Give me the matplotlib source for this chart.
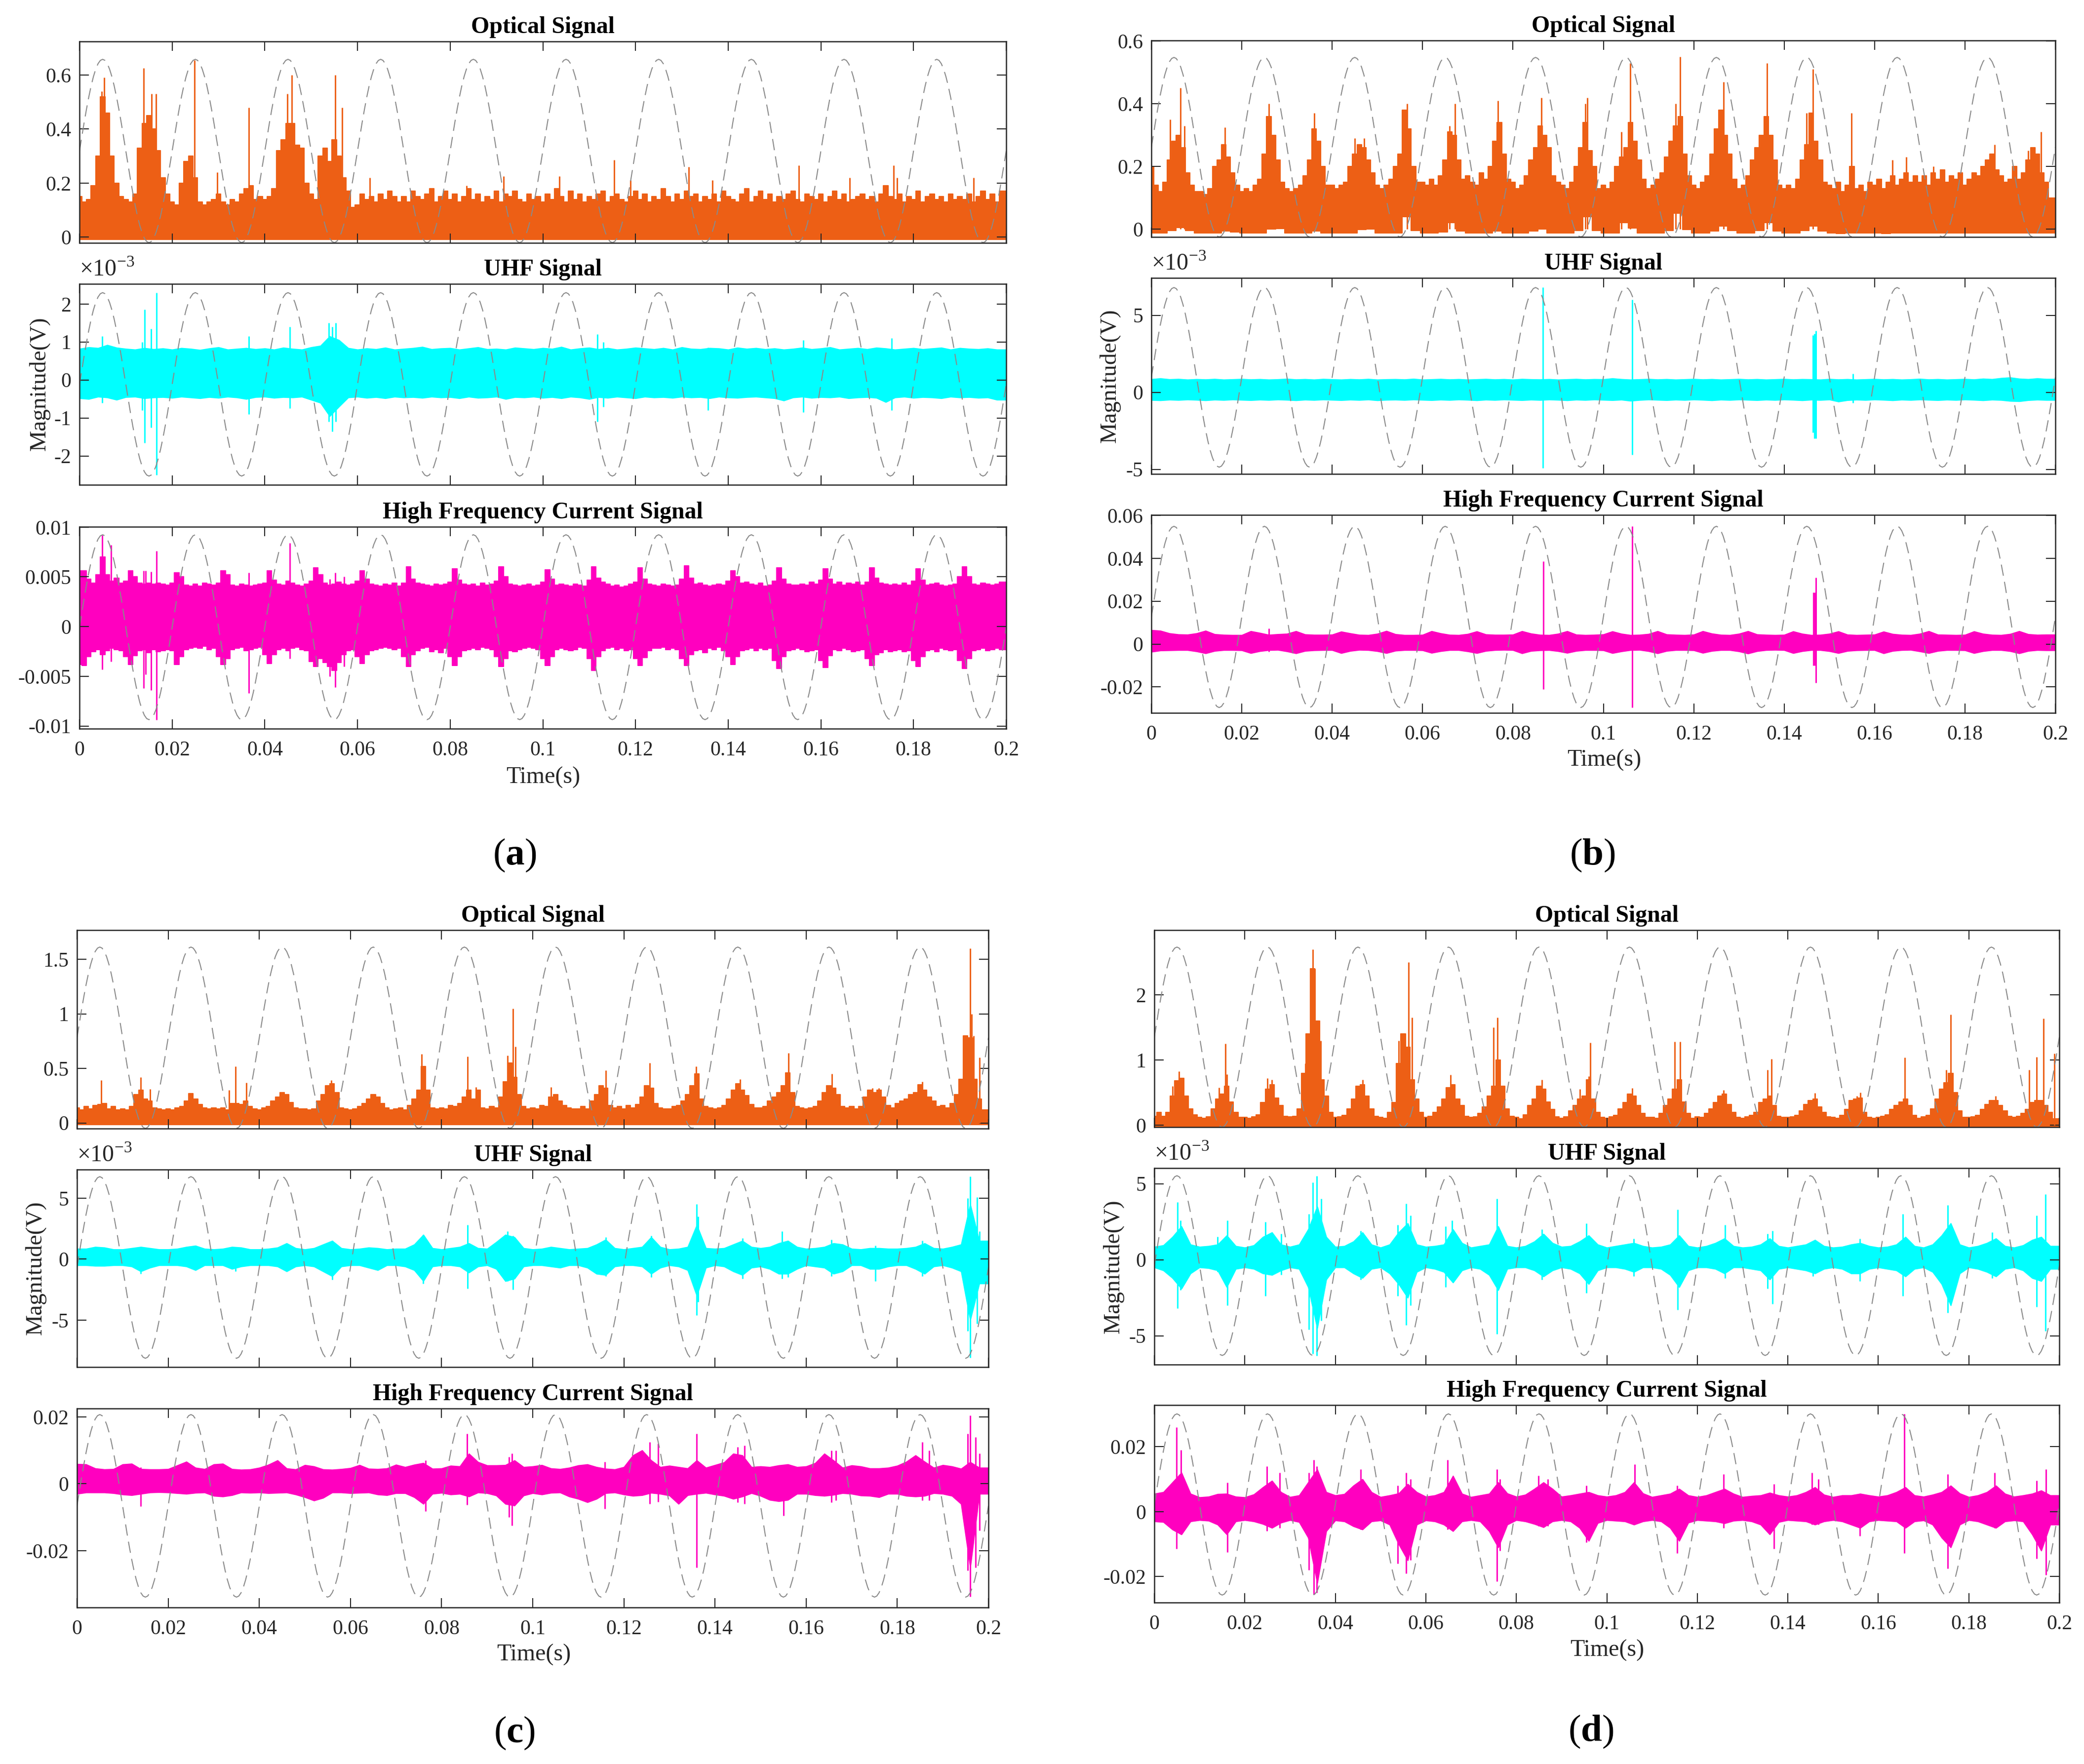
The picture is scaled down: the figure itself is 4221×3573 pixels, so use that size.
import numpy as np
import matplotlib
matplotlib.use('Agg')
import matplotlib.pyplot as plt

plt.rcParams['font.family'] = 'Liberation Serif'
plt.rcParams['mathtext.fontset'] = 'custom'
plt.rcParams['mathtext.rm'] = 'Liberation Serif'
plt.rcParams['mathtext.bf'] = 'Liberation Serif:bold'

# one mains cycle of the grey reference trace, 0 = trough, 1 = crest
ref_cycle = [.5, .578, .655, .727, .794, .854, .905, .946, .976, .994, 1, .994, .976, .946, .905, .854, .794, .727, .655, .578,
             .5, .422, .345, .273, .206, .146, .095, .054, .024, .006, 0, .006, .024, .054, .095, .146, .206, .273, .345, .422]

x_ticks = [0, .02, .04, .06, .08, .1, .12, .14, .16, .18, .2]
x_labels = ['0', '0.02', '0.04', '0.06', '0.08', '0.1', '0.12', '0.14', '0.16', '0.18', '0.2']

# ---- (a) ----
a1_top = [.15, .13, .14, .19, .30, .52, .46, .30, .20, .15,
          .14, .13, .16, .33, .42, .45, .40, .32, .22, .16,
          .13, .12, .20, .28, .30, .22, .13, .12, .13, .14,
          .16, .13, .12, .14, .13, .16, .18, .19, .14, .15,
          .14, .15, .18, .32, .36, .42, .42, .34, .33, .20,
          .16, .14, .30, .33, .28, .36, .30, .22, .17, .11,
          .12, .16, .14, .15, .13, .16, .14, .17, .15, .13,
          .15, .13, .17, .15, .14, .16, .18, .13, .15, .17,
          .14, .16, .13, .15, .18, .14, .16, .13, .15, .14,
          .17, .13, .16, .15, .17, .14, .13, .16, .14, .15,
          .13, .16, .14, .18, .15, .13, .17, .14, .16, .13,
          .15, .14, .16, .17, .13, .15, .16, .14, .13, .15,
          .17, .14, .16, .13, .15, .14, .18, .15, .13, .16,
          .14, .17, .15, .16, .13, .15, .14, .16, .13, .17,
          .15, .14, .13, .16, .18, .13, .15, .17, .14, .16,
          .13, .15, .14, .16, .17, .14, .13, .16, .15, .14,
          .16, .13, .15, .17, .14, .16, .13, .14, .15, .16,
          .14, .15, .13, .16, .19, .15, .14, .16, .13, .15,
          .14, .17, .13, .15, .16, .14, .15, .13, .16, .14,
          .15, .14, .16, .13, .15, .17, .14, .16, .13, .17]
a1_low = -.009
a1_spk_t = [4.8, 5.3, 13.9, 15.6, 16.5, 24.8, 29.7, 36.5, 44.9, 45.8, 55.2, 56.7, 62.7, 83.5, 91.5, 103.6, 115.4, 118.9, 131.5, 136.6, 155.2, 166.2, 175.7, 176.5, 193]
a1_spk_hi = [.54, .59, .625, .53, .53, .655, .24, .48, .53, .60, .60, .48, .22, .19, .225, .225, .285, .21, .26, .21, .265, .22, .265, .22, .22]
a1_spk_lo = [0] * len(a1_spk_t)

a2_top = [.82, .86, .84, .92, .85, .82, .80, .84, .81, .83, .80, .84, .82, .79, .83, .86, .80, .82, .84, .81,
          .83, .80, .85, .82, .80, .86, .90, 1.15, 1.05, .84, .80, .83, .81, .85, .80, .82, .84, .87, .81, .83,
          .84, .80, .83, .86, .81, .82, .80, .85, .83, .81, .84, .82, .87, .80, .83, .85, .81, .84, .80, .82,
          .85, .83, .81, .84, .80, .86, .82, .81, .84, .83, .80, .85, .82, .84, .81, .83, .80, .82, .85, .81,
          .83, .86, .80, .82, .84, .81, .85, .83, .80, .82, .84, .81, .83, .85, .80, .84, .82, .81, .83, .80]
a2_low = [-.48, -.50, -.44, -.46, -.52, -.45, -.44, -.48, -.46, -.45, -.47, -.44, -.46, -.48, -.45, -.47, -.44, -.46, -.50, -.45,
          -.44, -.47, -.45, -.46, -.44, -.52, -.6, -.95, -.7, -.46, -.44, -.47, -.45, -.48, -.44, -.46, -.45, -.47, -.44, -.46,
          -.45, -.48, -.44, -.47, -.46, -.44, -.50, -.45, -.46, -.44, -.47, -.45, -.48, -.44, -.46, -.50, -.45, -.47, -.44, -.46,
          -.48, -.44, -.46, -.45, -.47, -.44, -.46, -.45, -.48, -.44, -.46, -.47, -.45, -.44, -.46, -.48, -.54, -.46, -.44, -.47,
          -.45, -.46, -.44, -.48, -.46, -.45, -.47, -.58, -.46, -.44, -.47, -.45, -.46, -.48, -.44, -.46, -.45, -.47, -.46, -.52]
a2_spk_t = [4.9, 13.5, 14.1, 15.5, 16.6, 36.6, 45.4, 53.8, 54.6, 55.3, 111.8, 113, 135.6, 156.2, 175.3]
a2_spk_hi = [1.15, 1.0, 1.85, 1.35, 2.3, 1.15, 1.4, 1.5, 1.4, 1.5, 1.2, 1.0, .85, 1.05, 1.1]
a2_spk_lo = [-.6, -.8, -1.65, -1.25, -2.5, -.9, -.75, -1.1, -1.35, -1.1, -1.1, -.7, -.8, -.85, -.8]

a3_top = [5.6, 5.6, 4.8, 4.4, 5.2, 7.0, 5.2, 4.6, 4.9, 4.4,
          4.6, 5.6, 5.0, 4.4, 4.3, 4.4, 4.3, 4.4, 4.3, 4.2,
          4.4, 5.4, 5.0, 4.2, 4.1, 4.3, 4.1, 4.4, 4.3, 4.2,
          4.4, 5.6, 5.2, 4.2, 4.1, 4.3, 4.2, 4.1, 4.2, 4.3,
          4.4, 5.6, 4.7, 4.3, 4.2, 4.6, 4.4, 4.2, 4.1, 4.3,
          4.6, 5.9, 5.2, 4.4, 4.2, 4.3, 4.5, 4.3, 4.2, 4.3,
          4.6, 5.6, 4.8, 4.3, 4.2, 4.1, 4.3, 4.2, 4.4, 4.1,
          4.4, 6.0, 4.8, 4.4, 4.3, 4.2, 4.1, 4.3, 4.2, 4.3,
          4.5, 5.8, 4.7, 4.3, 4.2, 4.3, 4.1, 4.4, 4.2, 4.3,
          4.6, 6.0, 5.0, 4.3, 4.2, 4.1, 4.2, 4.3, 4.1, 4.2,
          4.5, 5.7, 4.8, 4.2, 4.3, 4.2, 4.1, 4.3, 4.2, 4.1,
          4.7, 6.0, 4.9, 4.5, 4.3, 4.1, 4.2, 4.0, 4.1, 4.3,
          4.5, 5.9, 4.8, 4.3, 4.2, 4.1, 4.3, 4.2, 4.1, 4.2,
          4.8, 6.1, 4.9, 4.3, 4.4, 4.2, 4.1, 4.2, 4.3, 4.2,
          4.6, 5.6, 5.0, 4.4, 4.5, 4.3, 4.2, 4.4, 4.1, 4.2,
          4.6, 5.9, 4.8, 4.3, 4.2, 4.2, 4.3, 4.2, 4.5, 4.3,
          4.7, 5.8, 4.8, 4.3, 4.5, 4.2, 4.4, 4.3, 4.5, 4.2,
          4.5, 5.9, 4.9, 4.4, 4.3, 4.2, 4.3, 4.2, 4.4, 4.2,
          4.6, 5.8, 4.7, 4.2, 4.3, 4.4, 4.2, 4.1, 4.2, 4.3,
          5.0, 6.0, 5.0, 4.3, 4.2, 4.4, 4.3, 4.2, 4.3, 4.5]
a3_low = [-3.8, -3.9, -3.0, -2.5, -2.3, -2.8, -2.4, -2.2, -2.3, -2.4,
          -3.0, -3.8, -2.9, -2.4, -2.3, -2.6, -2.3, -2.5, -2.4, -2.3,
          -2.4, -3.8, -3.0, -2.3, -2.2, -2.1, -2.2, -2.0, -2.3, -2.2,
          -3.0, -3.8, -3.2, -2.3, -2.2, -2.1, -2.4, -2.3, -2.2, -2.1,
          -2.8, -3.7, -2.8, -2.3, -2.2, -2.4, -2.2, -2.1, -2.3, -2.4,
          -3.5, -4.0, -3.2, -3.6, -4.0, -4.4, -3.6, -2.8, -2.4, -2.3,
          -3.0, -3.7, -2.8, -2.4, -2.3, -2.2, -2.1, -2.2, -2.3, -2.2,
          -3.0, -4.0, -2.8, -2.4, -2.2, -2.1, -2.5, -2.3, -2.6, -2.2,
          -3.0, -3.9, -3.0, -2.4, -2.3, -2.2, -2.3, -2.1, -2.2, -2.3,
          -3.0, -4.0, -3.2, -2.4, -2.5, -2.3, -2.2, -2.1, -2.2, -2.3,
          -3.2, -3.9, -3.0, -2.3, -2.2, -2.3, -2.4, -2.3, -2.1, -2.2,
          -3.2, -4.4, -3.0, -2.4, -2.2, -2.1, -2.3, -2.2, -2.4, -2.3,
          -3.2, -3.9, -3.1, -2.4, -2.2, -2.2, -2.1, -2.3, -2.2, -2.3,
          -3.2, -3.9, -2.8, -2.4, -2.3, -2.6, -2.2, -2.3, -2.1, -2.4,
          -3.0, -3.8, -3.0, -2.4, -2.3, -2.2, -2.4, -2.2, -2.3, -2.2,
          -3.4, -4.2, -3.0, -2.4, -2.3, -2.2, -2.3, -2.5, -2.4, -2.3,
          -3.4, -4.1, -2.9, -2.3, -2.4, -2.2, -2.3, -2.5, -2.4, -2.3,
          -3.2, -3.9, -2.8, -2.6, -2.3, -2.5, -2.4, -2.3, -2.5, -2.4,
          -3.4, -4.0, -3.0, -2.4, -2.3, -2.5, -2.2, -2.3, -2.4, -2.3,
          -3.4, -4.2, -3.2, -2.4, -2.3, -2.2, -2.4, -2.3, -2.2, -2.3]
a3_spk_t = [4.9, 6.8, 13.9, 14.3, 15.5, 16.6, 36.6, 45.4, 54, 55.2, 57.1]
a3_spk_hi = [9.2, 8.2, 5.6, 5.6, 5.5, 7.6, 5.4, 8.4, 4.8, 5.4, 5.0]
a3_spk_lo = [-4.3, -3.5, -6.2, -4.8, -6.4, -9.4, -6.7, -3.2, -5.0, -6.1, -4.0]

# ---- (b) ----
b1_top = [.20, .14, .12, .15, .22, .28, .30, .26, .18, .14,
          .12, .12, .11, .13, .20, .22, .27, .23, .18, .14,
          .12, .13, .12, .14, .16, .24, .36, .30, .22, .15,
          .13, .12, .13, .14, .17, .22, .32, .28, .20, .14,
          .14, .13, .14, .15, .20, .24, .27, .26, .22, .18,
          .14, .13, .14, .16, .20, .24, .38, .32, .20, .15,
          .15, .14, .16, .14, .17, .22, .31, .30, .22, .16,
          .17, .15, .14, .18, .16, .20, .28, .34, .24, .16,
          .15, .13, .14, .17, .22, .26, .33, .30, .26, .17,
          .15, .14, .13, .15, .20, .26, .34, .25, .20, .13,
          .14, .13, .15, .20, .23, .26, .34, .28, .22, .16,
          .13, .14, .16, .18, .23, .28, .33, .36, .24, .17,
          .14, .13, .15, .17, .24, .32, .38, .30, .24, .16,
          .13, .14, .17, .22, .26, .30, .36, .30, .22, .14,
          .13, .14, .13, .16, .22, .27, .37, .28, .22, .15,
          .14, .13, .15, .12, .14, .20, .13, .14, .12, .15,
          .14, .16, .13, .15, .17, .14, .16, .18, .15, .17,
          .15, .17, .14, .18, .16, .19, .15, .17, .16, .18,
          .14, .16, .18, .17, .20, .22, .24, .19, .17, .15,
          .16, .20, .16, .18, .22, .26, .24, .18, .15, .10]
# lower edge read every 2 ms
b1_low = [-.012, -.012, -.005, .005, -.004, -.012, -.012, -.012, -.006, -.010,
          -.012, -.012, -.012, .000, .002, -.012, -.012, -.012, -.006, -.012,
          -.012, -.012, -.012, -.002, .000, -.012, -.012, -.012, .040, -.004,
          -.012, -.012, -.010, .020, -.006, -.012, -.012, -.012, -.006, -.012,
          -.012, -.012, -.006, .000, -.012, -.012, -.012, -.004, .040, -.004,
          -.012, -.012, .020, .004, -.012, -.012, -.012, -.004, .050, -.002,
          -.012, -.012, -.006, .010, -.004, -.012, -.012, -.004, .020, -.006,
          -.012, -.012, -.004, .010, -.006, -.012, -.014, -.012, -.012, -.012,
          -.012, -.014, -.012, -.012, -.012, -.012, -.012, -.012, -.012, -.012,
          -.012, -.012, -.012, -.012, -.012, -.012, -.012, -.012, -.012, -.012]
b1_spk_t = [4.1, 6.4, 7.3, 16.3, 26, 36.1, 45, 47.1, 56.6, 66, 67.2, 76.7, 86.3, 96, 96.5, 104, 106, 116, 117, 126.6, 136.2, 145, 146.4, 154.9, 164, 167, 173, 186.6, 194, 196.8]
b1_spk_hi = [.35, .45, .33, .325, .40, .37, .29, .29, .40, .33, .40, .41, .42, .40, .42, .31, .53, .40, .55, .47, .53, .37, .51, .37, .22, .23, .20, .27, .25, .31]
b1_spk_lo = [0] * len(b1_spk_t)

b2_top = [.85, .90, .84, .86, .82, .85, .83, .86, .82, .84, .86, .83, .85, .82, .84, .87, .83, .85, .82, .86,
          .84, .82, .85, .83, .86, .82, .84, .85, .83, .87, .82, .84, .86, .83, .85, .82, .84, .86, .83, .85,
          .82, .86, .84, .83, .85, .82, .84, .86, .83, .85, .84, .90, .85, .82, .84, .86, .83, .85, .82, .84,
          .86, .83, .85, .82, .84, .86, .83, .85, .82, .84, .86, .83, .85, .84, .82, .86, .83, .85, .82, .84,
          .86, .83, .85, .82, .84, .87, .83, .85, .82, .84, .86, .83, .88, .85, .92, .96, .88, .85, .90, .86]
b2_low = [-.50, -.52, -.48, -.50, -.47, -.49, -.52, -.48, -.50, -.47, -.49, -.51, -.48, -.50, -.47, -.49, -.52, -.48, -.50, -.47,
          -.49, -.51, -.48, -.50, -.47, -.52, -.49, -.48, -.50, -.47, -.49, -.51, -.48, -.50, -.47, -.49, -.52, -.48, -.50, -.47,
          -.49, -.51, -.48, -.50, -.47, -.49, -.52, -.48, -.50, -.47, -.49, -.51, -.48, -.55, -.50, -.47, -.49, -.51, -.48, -.50,
          -.47, -.49, -.52, -.48, -.50, -.47, -.49, -.51, -.48, -.50, -.47, -.49, -.52, -.48, -.50, -.47, -.60, -.51, -.48, -.50,
          -.47, -.49, -.52, -.48, -.50, -.47, -.49, -.51, -.48, -.50, -.47, -.49, -.52, -.48, -.50, -.56, -.58, -.51, -.48, -.50]
b2_spk_t = [86.6, 106.4, 146.4, 146.7, 147, 155.2]
b2_spk_hi = [6.8, 6.0, 3.7, 3.8, 4.0, 1.2]
b2_spk_lo = [-4.9, -4.05, -2.6, -3.0, -3.0, -.7]

b3_top = [6.5, 6.2, 5.0, 4.5, 4.4, 5.0, 6.2, 4.6, 4.3, 4.2,
          4.2, 6.0, 5.2, 4.3, 4.6, 4.8, 6.0, 4.5, 4.3, 4.3,
          4.4, 5.8, 5.0, 4.3, 4.2, 4.8, 6.1, 4.6, 4.2, 4.2,
          4.3, 6.0, 5.0, 4.3, 4.2, 4.7, 5.9, 4.5, 4.3, 4.3,
          4.4, 6.0, 4.9, 4.3, 4.2, 4.8, 6.0, 4.4, 4.2, 4.3,
          4.5, 5.9, 4.8, 4.2, 4.3, 4.7, 6.0, 4.5, 4.3, 4.2,
          4.4, 6.0, 4.9, 4.3, 4.2, 4.8, 6.0, 4.5, 4.3, 4.2,
          4.3, 5.9, 4.8, 4.2, 4.3, 4.8, 5.9, 4.4, 4.2, 4.3,
          4.4, 5.8, 4.7, 4.3, 4.2, 4.8, 6.0, 4.4, 4.3, 4.2,
          4.3, 5.9, 4.8, 4.3, 4.2, 4.7, 6.0, 4.6, 4.3, 4.4]
b3_low = [-3.6, -3.0, -2.9, -2.8, -2.8, -3.4, -4.3, -3.2, -2.8, -2.8,
          -2.9, -4.2, -3.3, -2.8, -2.7, -3.4, -4.3, -3.2, -2.9, -2.8,
          -2.8, -4.2, -3.2, -2.7, -2.8, -3.3, -4.2, -3.1, -2.8, -2.8,
          -2.9, -4.1, -3.3, -2.8, -2.8, -3.4, -4.2, -3.2, -2.8, -2.7,
          -2.8, -4.3, -3.2, -2.9, -2.8, -3.3, -4.1, -3.2, -2.8, -2.8,
          -2.9, -4.2, -3.4, -2.8, -2.7, -3.3, -4.3, -3.2, -2.8, -2.8,
          -2.9, -4.1, -3.2, -2.8, -2.8, -3.4, -4.4, -3.3, -2.8, -2.7,
          -2.8, -4.2, -3.3, -2.8, -2.8, -3.3, -4.2, -3.2, -2.9, -2.8,
          -2.8, -4.3, -3.2, -2.8, -2.7, -3.4, -4.2, -3.2, -2.8, -2.8,
          -2.9, -4.2, -3.3, -2.8, -2.8, -3.3, -4.3, -3.2, -2.8, -2.9]
b3_spk_t = [26, 86.7, 106.4, 146.5, 146.8, 147]
b3_spk_hi = [7.2, 38.5, 55, 24, 24, 31]
b3_spk_lo = [-3.5, -21, -29.5, -10, -10, -18]

# ---- (c) ----
c1_top = [.14, .12, .15, .13, .16, .17, .18, .13, .15, .12,
          .13, .12, .15, .26, .30, .22, .20, .14, .13, .12,
          .13, .12, .14, .15, .20, .27, .22, .17, .14, .13,
          .14, .13, .14, .12, .18, .18, .17, .20, .15, .13,
          .12, .14, .15, .20, .24, .28, .26, .19, .14, .13,
          .13, .12, .13, .20, .26, .34, .36, .28, .14, .13,
          .12, .13, .15, .18, .22, .26, .24, .18, .14, .12,
          .13, .14, .12, .16, .22, .30, .52, .30, .14, .13,
          .14, .13, .16, .15, .18, .24, .30, .22, .30, .14,
          .13, .15, .14, .24, .38, .55, .42, .26, .15, .13,
          .14, .13, .16, .15, .24, .26, .20, .16, .14, .13,
          .13, .15, .13, .20, .26, .34, .32, .16, .14, .15,
          .13, .16, .14, .17, .24, .34, .32, .18, .14, .13,
          .13, .15, .16, .20, .26, .34, .45, .22, .15, .14,
          .13, .14, .16, .22, .30, .36, .30, .25, .17, .14,
          .14, .15, .20, .24, .28, .34, .46, .28, .15, .14,
          .13, .14, .15, .20, .28, .34, .32, .26, .15, .14,
          .15, .13, .15, .24, .30, .28, .30, .24, .16, .14,
          .18, .20, .22, .26, .28, .35, .30, .24, .20, .15,
          .16, .14, .18, .26, .40, .80, .78, .40, .22, .12]
c1_low = -.015
c1_spk_t = [5.3, 14, 16, 33.4, 34.8, 37.2, 55.8, 75.6, 85.7, 87.5, 94.5, 95.7, 96.2, 104, 116, 125.7, 135.9, 145.5, 156.1, 165.7, 174.5, 176, 185.5, 196, 196.3, 196.8, 198]
c1_spk_hi = [.39, .42, .31, .30, .52, .37, .39, .63, .61, .33, .62, 1.05, .70, .33, .48, .55, .52, .40, .64, .45, .32, .32, .38, 1.6, 1.0, .80, .60]
c1_spk_lo = [0] * len(c1_spk_t)

c2_top = [.85, .85, 1.0, .95, .8, .8, .9, 1.0, .9, .8,
          .8, .85, 1.0, 1.1, .85, .8, .85, 1.0, .95, .8,
          .8, .85, .95, 1.3, .9, .8, .9, 1.2, 1.5, .9,
          .8, .85, .95, .9, .8, .85, .85, 1.2, 2.0, .9,
          .8, .9, 1.0, 1.3, .9, .85, 1.4, 2.0, 1.8, .9,
          .8, .85, 1.0, .9, .8, .85, .9, 1.2, 1.6, .9,
          .8, .9, 1.0, 1.8, 1.0, .8, .85, 1.0, 2.8, .9,
          .85, .9, 1.2, 1.5, 1.0, .9, 1.0, 1.3, 1.5, 1.0,
          .85, .9, 1.0, 1.3, 1.2, .85, .8, .9, .9, .85,
          .85, .9, 1.0, 1.3, .9, .85, 1.0, 1.2, 4.5, 1.5]
c2_low = [-.5, -.5, -.55, -.55, -.5, -.5, -.6, -1.0, -.7, -.5,
          -.5, -.5, -.6, -.9, -.5, -.5, -.5, -.8, -.6, -.5,
          -.5, -.5, -.6, -1.0, -.6, -.5, -.6, -1.0, -1.4, -.6,
          -.5, -.5, -.7, -.9, -.5, -.5, -.6, -.9, -1.8, -.6,
          -.5, -.5, -.6, -1.1, -.6, -.5, -.8, -1.8, -1.6, -.6,
          -.5, -.5, -.6, -.7, -.5, -.5, -.7, -1.2, -1.3, -.6,
          -.5, -.5, -.6, -1.2, -.7, -.5, -.6, -.9, -3.0, -.7,
          -.5, -.6, -1.0, -1.3, -.7, -.6, -.8, -1.2, -1.2, -.8,
          -.5, -.6, -.7, -1.2, -1.0, -.5, -.5, -.8, -.8, -.6,
          -.5, -.5, -.8, -1.2, -.6, -.5, -.7, -1.0, -5.0, -2.0]
c2_spk_t = [14, 34.8, 56, 76, 85.7, 94.5, 95.7, 116, 126, 136, 136.3, 146, 154.7, 156, 165.5, 175.2, 185.5, 195.5, 196, 197.5, 198]
c2_spk_hi = [1.0, .9, 1.5, 2.0, 2.8, 2.3, 1.9, 1.8, 1.9, 4.5, 3.5, 1.7, 2.3, 1.5, 1.6, 1.1, 1.5, 5.0, 6.8, 5.1, 2.3]
c2_spk_lo = [-1.2, -1.0, -1.7, -2.0, -2.4, -1.8, -2.5, -1.4, -1.5, -4.6, -3.5, -1.6, -1.6, -1.5, -1.4, -1.8, -1.4, -5.9, -8.1, -5.3, -2.0]

c3_top = [5.9, 5.8, 4.6, 4.3, 4.4, 5.8, 6.0, 4.4, 4.3, 4.3,
          4.4, 5.5, 6.6, 4.8, 4.4, 5.8, 6.0, 4.4, 4.2, 4.3,
          4.8, 5.7, 7.0, 4.6, 4.3, 5.6, 5.2, 4.3, 4.2, 4.4,
          4.7, 5.6, 4.5, 4.4, 4.6, 5.7, 5.0, 5.7, 6.2, 4.5,
          4.6, 5.4, 5.2, 9.0, 6.5, 5.5, 5.5, 5.6, 7.0, 5.0,
          5.2, 5.6, 4.6, 4.4, 4.8, 5.5, 5.8, 5.0, 4.5, 4.3,
          5.0, 8.5, 10, 7.0, 5.0, 5.4, 5.0, 4.6, 7.0, 4.8,
          5.6, 6.4, 9.0, 8.5, 5.0, 5.2, 5.0, 5.5, 5.8, 5.0,
          5.2, 6.2, 9.0, 7.0, 4.8, 5.5, 5.2, 4.6, 4.6, 4.8,
          5.4, 6.6, 8.5, 6.6, 4.8, 5.6, 5.2, 4.5, 6.5, 4.8]
c3_low = [-3.0, -2.6, -2.6, -2.6, -2.8, -3.2, -3.4, -3.0, -2.6, -2.5,
          -2.6, -2.8, -3.0, -2.7, -2.6, -3.6, -3.8, -3.4, -2.6, -2.7,
          -2.6, -2.8, -2.7, -2.6, -3.2, -4.0, -5.0, -4.2, -2.6, -2.6,
          -2.8, -2.7, -2.6, -3.2, -3.4, -2.8, -2.8, -4.0, -6.0, -3.0,
          -2.7, -3.2, -3.0, -3.8, -2.6, -2.8, -3.5, -6.0, -6.5, -3.5,
          -2.8, -3.2, -2.7, -2.6, -3.8, -4.5, -5.5, -4.5, -2.8, -2.6,
          -3.2, -3.6, -3.4, -2.7, -3.0, -3.5, -6.0, -3.4, -3.0, -2.7,
          -3.2, -3.6, -4.5, -3.8, -2.8, -3.6, -4.8, -5.2, -4.8, -3.0,
          -3.0, -3.4, -3.6, -3.3, -2.8, -3.0, -3.5, -3.6, -4.0, -3.0,
          -3.0, -3.6, -3.8, -3.6, -2.8, -3.0, -3.6, -6, -25, -3.0]
c3_spk_t = [14, 76.5, 85.6, 94.8, 95.5, 115.8, 125.7, 127.5, 136, 145, 146.5, 155, 165.5, 166.5, 185.5, 187, 195.5, 196, 197.2, 198]
c3_spk_hi = [5, 7, 15, 8, 9, 6.5, 12.5, 12, 15, 11, 11.5, 5, 10, 10, 12.5, 10, 15, 20.5, 14, 9]
c3_spk_lo = [-6.8, -8.2, -6.3, -10, -12.5, -7.5, -6, -5.4, -25, -5.5, -6, -9.5, -5.5, -5, -5, -5, -26, -33.8, -25, -14]

# ---- (d) ----
d1_top = [.14, .20, .14, .20, .45, .68, .72, .45, .25, .16,
          .12, .11, .13, .25, .40, .48, .60, .36, .20, .12,
          .12, .11, .13, .16, .35, .55, .62, .42, .30, .14,
          .13, .14, .25, .80, 1.4, 2.4, 1.6, .70, .45, .20,
          .12, .13, .15, .25, .40, .60, .62, .45, .25, .14,
          .12, .11, .20, .35, .95, 1.4, 1.2, .70, .40, .20,
          .12, .14, .20, .28, .40, .58, .62, .40, .30, .14,
          .12, .13, .18, .28, .45, .60, 1.0, .60, .25, .14,
          .12, .10, .16, .30, .40, .60, .55, .36, .24, .13,
          .11, .13, .22, .30, .40, .45, .70, .40, .20, .12,
          .11, .13, .15, .25, .35, .48, .45, .30, .18, .12,
          .12, .11, .18, .30, .40, .55, .70, .36, .18, .11,
          .13, .12, .18, .25, .35, .45, .48, .32, .20, .12,
          .11, .13, .15, .20, .35, .40, .45, .30, .14, .12,
          .12, .13, .15, .22, .32, .38, .40, .28, .20, .13,
          .12, .11, .15, .24, .38, .40, .42, .20, .12, .11,
          .12, .14, .16, .24, .30, .36, .40, .30, .15, .11,
          .13, .15, .25, .40, .55, .65, .80, .50, .22, .12,
          .12, .13, .15, .24, .32, .38, .38, .30, .22, .14,
          .12, .14, .18, .24, .35, .38, .38, .30, .20, .10]
d1_low = -.02
d1_spk_t = [4, 5.5, 14.3, 15.7, 16, 25, 26, 33.4, 35, 35.5, 36.8, 46, 54, 55, 56.2, 57, 65.5, 75, 75.8, 85.7, 94, 96, 96.3, 105.6, 115, 116.2, 125.8, 135.5, 136.4, 146, 155.3, 156, 165.8, 175, 176, 185.9, 193.3, 195, 196.5, 198.9]
d1_spk_hi = [.6, .83, .58, 1.25, .78, .72, .70, .95, 2.7, 2.4, 1.3, .70, 1.3, 1.0, 2.5, 1.65, .77, 1.5, 1.65, .70, .55, .75, 1.27, .57, 1.28, 1.28, .54, .85, 1.02, .49, .45, .50, 1.04, .85, 1.7, .45, .85, 1.05, 1.64, 1.1]
d1_spk_lo = [0] * len(d1_spk_t)

d2_top = [.85, .95, 1.5, 2.2, 1.0, .85, .9, 1.0, 1.6, .9,
          .8, .95, 1.5, 1.8, 1.0, .85, 1.0, 2.0, 3.5, 1.5,
          .85, .9, 1.2, 1.8, 1.0, .8, 1.0, 1.8, 2.4, 1.0,
          .85, .9, 1.0, 2.0, 1.1, .8, .9, 1.0, 2.2, .9,
          .8, .9, 1.2, 1.7, 1.1, .85, .9, 1.2, 1.6, 1.0,
          .8, .9, 1.0, 1.1, .9, .8, .85, 1.0, 1.6, .9,
          .8, .9, 1.1, 1.4, .9, .8, .85, 1.0, 1.4, .9,
          .8, .9, 1.0, 1.3, .9, .8, .85, 1.0, 1.1, .9,
          .8, .85, 1.0, 1.5, .9, .8, 1.0, 1.6, 2.4, 1.0,
          .8, .9, 1.1, 1.4, .9, .8, .95, 1.3, 1.5, .9]
d2_low = [-.5, -.7, -1.2, -1.9, -.9, -.5, -.55, -.7, -1.8, -.6,
          -.5, -.6, -.9, -1.0, -.7, -.5, -.6, -1.8, -4.5, -1.3,
          -.5, -.5, -.9, -1.2, -.6, -.5, -.9, -1.6, -2.5, -.8,
          -.5, -.6, -.8, -1.5, -.7, -.5, -.6, -1.0, -2.0, -.6,
          -.5, -.5, -.7, -1.1, -.7, -.5, -.6, -.9, -1.6, -.7,
          -.5, -.5, -.6, -.8, -.5, -.5, -.6, -1.0, -1.8, -.7,
          -.5, -.5, -.6, -.9, -.5, -.5, -.6, -.7, -1.3, -.6,
          -.5, -.6, -.7, -.9, -.6, -.5, -.6, -.9, -.9, -.6,
          -.5, -.6, -.7, -1.1, -.6, -.5, -.8, -1.6, -3.0, -.9,
          -.5, -.6, -.8, -1.1, -.6, -.5, -.7, -1.2, -1.4, -.6]
d2_spk_t = [5.1, 5.8, 14, 16.2, 24.6, 28, 34.2, 35, 35.9, 36.9, 45.6, 53.8, 55.6, 56.6, 64.4, 65.8, 75.7, 85.6, 95.5, 106, 115.7, 126.1, 135.5, 136.6, 145.6, 155.9, 165.4, 175.3, 185.2, 195, 196.9]
d2_spk_hi = [3.8, 2.6, 1.5, 2.6, 2.5, 1.7, 3.0, 5.1, 5.5, 4.0, 1.9, 2.3, 3.7, 2.9, 2.2, 2.6, 4.0, 2.0, 2.4, 1.4, 3.3, 2.3, 1.7, 1.9, 1.2, 1.4, 3.0, 3.6, 1.8, 2.9, 4.3]
d2_spk_lo = [-3.2, -2.0, -.8, -3.0, -2.4, -1.0, -4.6, -6.2, -6.3, -4.0, -1.3, -2.4, -4.3, -3.0, -1.8, -1.4, -4.9, -1.3, -2.2, -1.1, -3.3, -1.2, -1.9, -2.9, -1.1, -1.4, -2.4, -3.5, -1.2, -3.1, -4.7]

d3_top = [5.5, 6.0, 9, 12, 5.5, 4.4, 4.6, 5.4, 5.5, 4.6,
          4.4, 5.3, 7.5, 9.5, 6, 4.5, 5, 9, 13, 6,
          5, 5.4, 8, 10, 6, 4.5, 5, 5.6, 8.5, 6,
          4.6, 5, 6, 11, 5.5, 4.5, 5.0, 5.5, 9, 5.6,
          4.6, 5.2, 7, 9, 7, 4.6, 5, 5.5, 6, 5,
          4.6, 5, 6, 9, 5.6, 4.5, 5, 5.5, 7, 5,
          4.5, 5, 6, 7, 5.5, 4.5, 4.8, 5, 5.8, 5,
          4.6, 5, 6, 7.5, 5.2, 4.5, 5, 5, 5.5, 5,
          4.6, 5, 6, 7.5, 5, 4.6, 5.2, 6, 8, 5.6,
          4.5, 5, 6, 8, 5.5, 4.6, 5, 5.5, 6.5, 5]
d3_low = [-3, -3.2, -5.5, -7, -3, -2.6, -2.8, -4, -7, -3,
          -2.6, -3, -3.8, -5, -3.4, -2.6, -3.2, -8, -22, -6,
          -2.7, -3, -4.5, -5.5, -3, -2.7, -4, -10, -15, -4,
          -2.7, -3, -4, -6, -3, -2.6, -3, -6, -11, -4,
          -2.6, -3, -3.8, -4.8, -3, -2.6, -3, -5, -9, -3.5,
          -2.6, -2.8, -3, -4, -3, -2.6, -3, -5, -9, -3.4,
          -2.6, -2.8, -3, -3.6, -2.8, -2.6, -3, -4, -7, -3.2,
          -2.6, -2.8, -3, -4, -3, -2.6, -3, -4, -5, -3,
          -2.6, -2.8, -3, -5, -3, -2.7, -4, -8, -11, -4,
          -2.6, -3, -4, -5, -3, -2.7, -3, -7, -12, -4]
d3_spk_t = [4.9, 5.9, 16.2, 24.9, 27.7, 34.2, 35.2, 35.9, 45.6, 53.8, 55.6, 56.6, 64.8, 75.7, 76.4, 84.9, 87, 95.5, 106.2, 115.5, 125.8, 136.9, 145.3, 146.8, 155.9, 165.7, 175.3, 185.7, 195, 197]
d3_spk_hi = [26, 19, 9, 14, 12, 12, 16, 14, 13, 8, 12, 10, 16, 13, 10, 11, 10, 8, 14.5, 8, 11.5, 8.5, 12, 10, 3, 30, 11.5, 12, 9.5, 13]
d3_spk_lo = [-11.5, -7, -12.5, -6, -5, -18, -25.5, -25, -5.5, -16, -19, -15, -5.5, -21.5, -12, -4.5, -4.5, -9.5, -3.5, -12.8, -5, -11.5, -4, -4, -7.5, -12.8, -17.5, -5, -14.5, -19.5]

W, H = 4221, 3573
ORANGE, CYAN, MAGENTA = '#ED5F15', '#00FFFF', '#FF00BF'
DARK = '#262626'

fig = plt.figure(figsize=(W / 300, H / 300), dpi=300, facecolor='white')


def edge(v, scale):
    # hold the last reading out to 0.2 s
    v = np.asarray(v, dtype=float) * scale
    return np.append(v, v[-1]) if v.ndim else v


def panel(box, title, color, top, low, spk_t, spk_hi, spk_lo, ylim, ref, yticks, ylabels, scale=1.0, xlab=False, expo=False):
    x0, y0, x1, y1 = box
    ax = fig.add_axes([x0 / W, 1 - y1 / H, (x1 - x0) / W, (y1 - y0) / H])
    t = np.linspace(0, .2, len(top) + 1)
    # the 1 ms lists are held flat per bin, it reads closer to the raw spikes
    step = 'mid' if len(top) == 200 else None
    ax.fill_between(t, edge(low, scale), edge(top, scale), color=color, lw=.5, step=step)
    ax.vlines(np.asarray(spk_t) * 1e-3, np.asarray(spk_lo) * scale, np.asarray(spk_hi) * scale, color=color, lw=.7)

    ref_y = np.array(ref_cycle * 10 + ref_cycle[:1])
    ax.plot(np.linspace(0, .2, len(ref_y)), ref[0] + (ref[1] - ref[0]) * ref_y, color='#8a8a8a', lw=.5, dashes=(11, 6))

    ax.set_xlim(0, .2)
    ax.set_ylim(*ylim)
    ax.set_xticks(x_ticks)
    ax.set_xticklabels(x_labels if xlab else [])
    ax.set_yticks(yticks)
    ax.set_yticklabels(ylabels)
    ax.tick_params(direction='in', length=4.5, width=.5, top=True, right=True, color=DARK,
                   labelcolor=DARK, labelsize=10, pad=4)
    ax.tick_params(axis='x', pad=6)
    for sp in ax.spines.values():
        sp.set_linewidth(.6)
        sp.set_color(DARK)
    ax.set_title(title, fontsize=11.5, fontweight='bold', pad=4)
    if expo:
        ax.annotate(r'$\times10^{-3}$', xy=(0, 1), xycoords='axes fraction', xytext=(0, 1.5), textcoords='offset points',
                    fontsize=11.5, color=DARK, ha='left', va='bottom')
    return ax


OPT, UHF, HF = 'Optical Signal', 'UHF Signal', 'High Frequency Current Signal'

# (a)
panel((161, 84, 2038, 492), OPT, ORANGE, a1_top, a1_low, a1_spk_t, a1_spk_hi, a1_spk_lo, (-.021, .724), (-.02, .658),
      [0, .2, .4, .6], ['0', '0.2', '0.4', '0.6'])
panel((161, 575, 2038, 982), UHF, CYAN, a2_top, a2_low, a2_spk_t, a2_spk_hi, a2_spk_lo, (-2.76, 2.53), (-2.53, 2.3),
      [-2, -1, 0, 1, 2], ['-2', '-1', '0', '1', '2'], expo=True)
panel((161, 1067, 2038, 1476), HF, MAGENTA, a3_top, a3_low, a3_spk_t, a3_spk_hi, a3_spk_lo, (-.01027, .01004), (-.00936, .00924),
      [-.01, -.005, 0, .005, .01], ['-0.01', '-0.005', '0', '0.005', '0.01'], scale=1e-3, xlab=True)
# (b)
panel((2332, 82, 4163, 480), OPT, ORANGE, b1_top, np.repeat(b1_low, 2), b1_spk_t, b1_spk_hi, b1_spk_lo, (-.025, .602), (-.025, .548),
      [0, .2, .4, .6], ['0', '0.2', '0.4', '0.6'])
panel((2332, 563, 4163, 960), UHF, CYAN, b2_top, b2_low, b2_spk_t, b2_spk_hi, b2_spk_lo, (-5.3, 7.42), (-4.86, 6.8),
      [-5, 0, 5], ['-5', '0', '5'], expo=True)
panel((2332, 1043, 4163, 1444), HF, MAGENTA, b3_top, b3_low, b3_spk_t, b3_spk_hi, b3_spk_lo, (-.0321, .0602), (-.0296, .0549),
      [-.02, 0, .02, .04, .06], ['-0.02', '0', '0.02', '0.04', '0.06'], scale=1e-3, xlab=True)
# (c)
panel((156, 1884, 2002, 2286), OPT, ORANGE, c1_top, c1_low, c1_spk_t, c1_spk_hi, c1_spk_lo, (-.052, 1.768), (-.05, 1.613),
      [0, .5, 1, 1.5], ['0', '0.5', '1', '1.5'])
panel((156, 2369, 2002, 2769), UHF, CYAN, c2_top, c2_low, c2_spk_t, c2_spk_hi, c2_spk_lo, (-8.86, 7.35), (-8.14, 6.77),
      [-5, 0, 5], ['-5', '0', '5'], expo=True)
panel((156, 2853, 2002, 3256), HF, MAGENTA, c3_top, c3_low, c3_spk_t, c3_spk_hi, c3_spk_lo, (-.037, .0225), (-.0339, .0207),
      [-.02, 0, .02], ['-0.02', '0', '0.02'], scale=1e-3, xlab=True)
# (d)
panel((2338, 1884, 4171, 2283), OPT, ORANGE, d1_top, d1_low, d1_spk_t, d1_spk_hi, d1_spk_lo, (-.03, 2.995), (-.03, 2.735),
      [0, 1, 2], ['0', '1', '2'])
panel((2338, 2366, 4171, 2764), UHF, CYAN, d2_top, d2_low, d2_spk_t, d2_spk_hi, d2_spk_lo, (-6.9, 6.03), (-6.3, 5.53),
      [-5, 0, 5], ['-5', '0', '5'], expo=True)
panel((2338, 2846, 4171, 3246), HF, MAGENTA, d3_top, d3_low, d3_spk_t, d3_spk_hi, d3_spk_lo, (-.028, .0328), (-.0257, .0301),
      [-.02, 0, .02], ['-0.02', '0', '0.02'], scale=1e-3, xlab=True)


def put(x, y, s, **kw):
    fig.text(x / W, 1 - y / H, s, ha='center', va='center', **kw)


for x, y in [(80, 777), (2248, 761), (72, 2568), (2255, 2565)]:
    put(x, y, 'Magnitude(V)', rotation=90, fontsize=11.4, color=DARK)
for x, y in [(1100, 1575), (3249, 1540), (1081, 3352), (3255, 3343)]:
    put(x, y, 'Time(s)', fontsize=11.5, color=DARK)
for x, y, s in [(1042, 1732, 'a'), (3225, 1732, 'b'), (1042, 3510, 'c'), (3222, 3507, 'd')]:
    put(x, y, '($\\mathbf{%s}$)' % s, fontsize=18.5, color='black')

fig.savefig('out.png', dpi=300)
